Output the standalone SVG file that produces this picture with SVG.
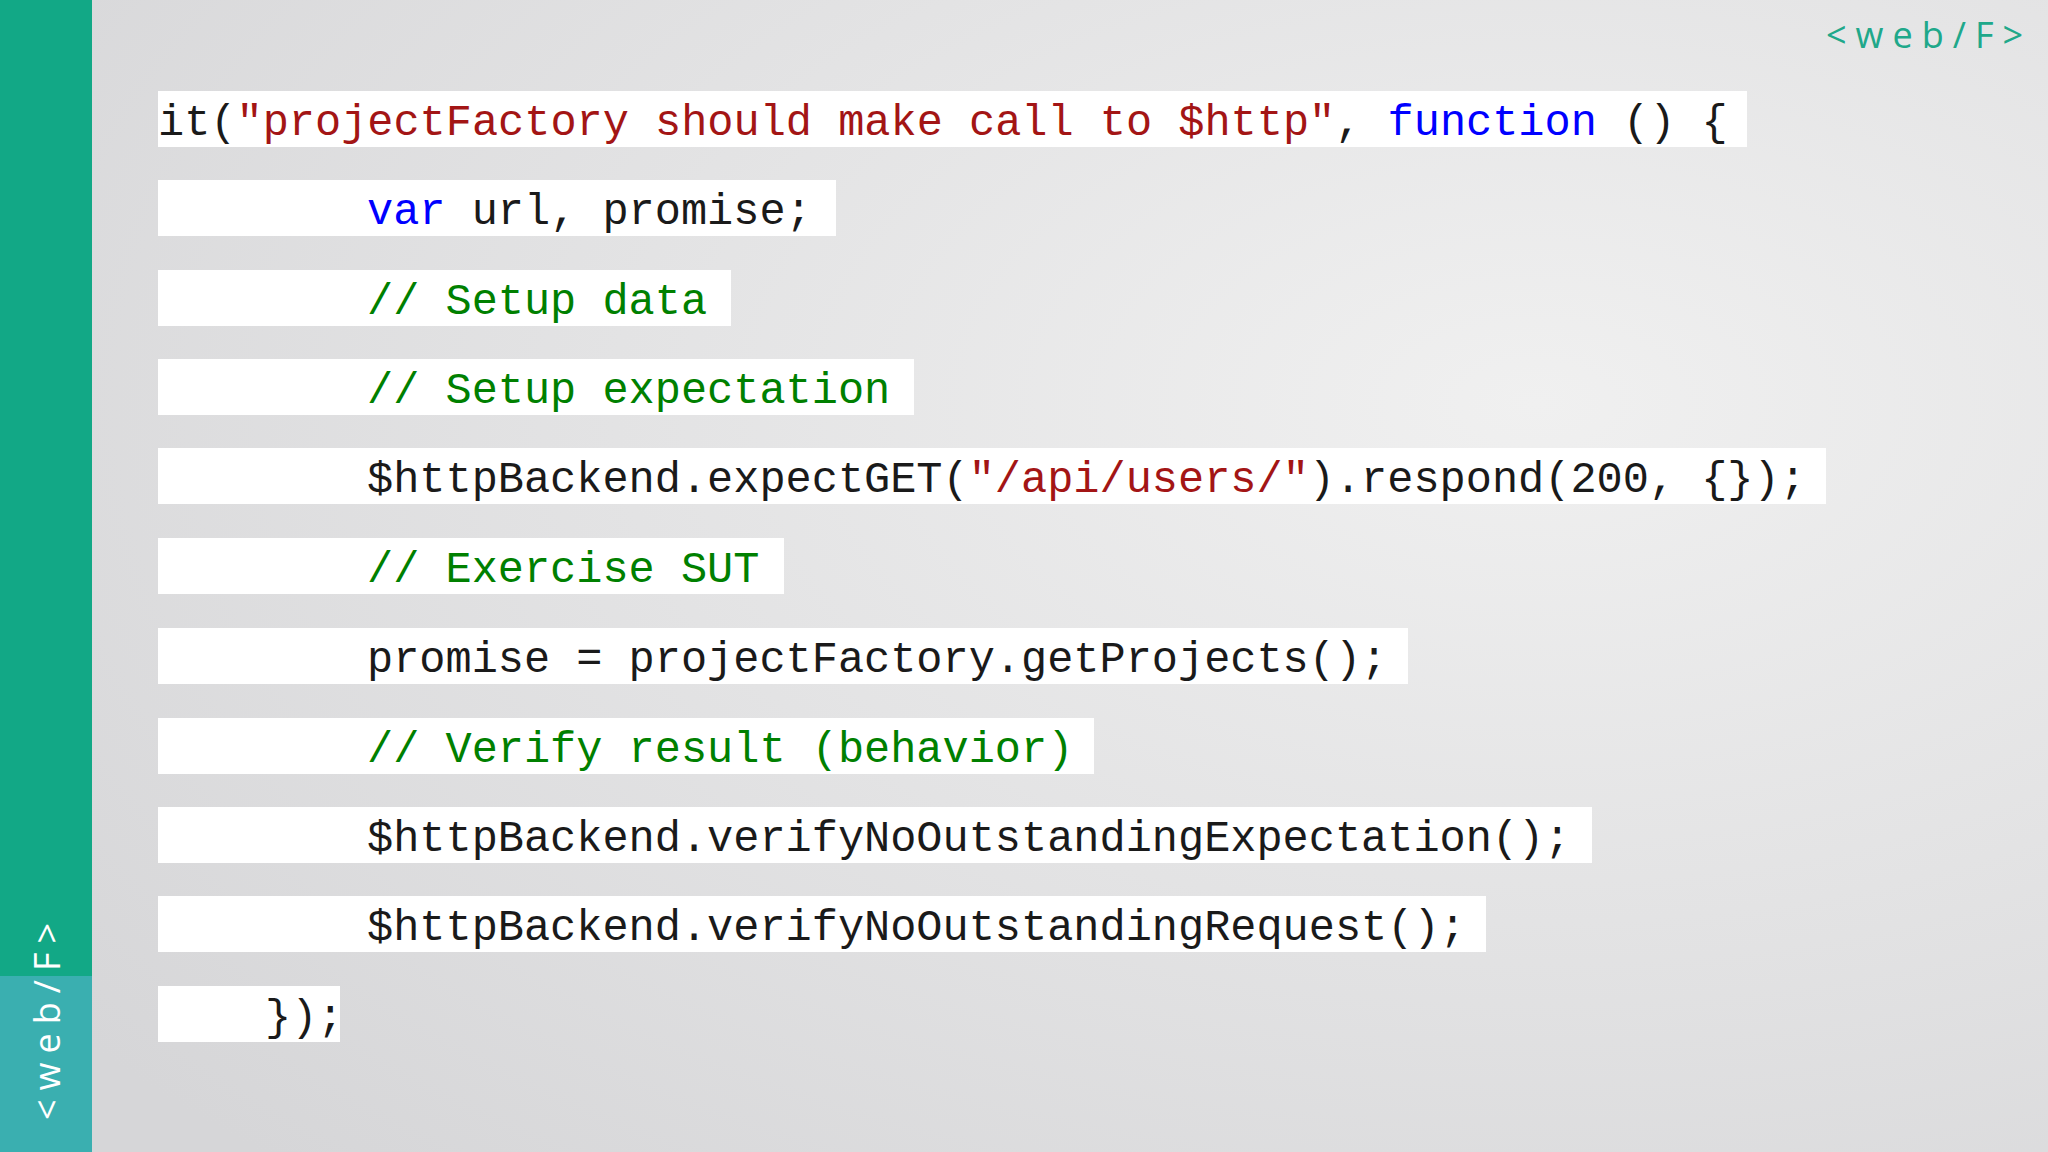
<svg xmlns="http://www.w3.org/2000/svg" width="2048" height="1152" viewBox="0 0 2048 1152">
<defs>
<radialGradient id="bg" cx="0.75" cy="0.35" r="0.9">
<stop offset="0" stop-color="#f0f0f0"/><stop offset="1" stop-color="#d6d6d8"/>
</radialGradient>
<style>
.box{fill:#ffffff}
.code{font-family:"Liberation Mono",monospace;font-size:43.6px;fill:#1a1a1a}
.s{fill:#a31515}.k{fill:#0000ff}.c{fill:#008000}
.logo{font-family:"Open Sans","DejaVu Sans",sans-serif;font-size:36px;letter-spacing:9px}
</style>
</defs>
<rect width="2048" height="1152" fill="url(#bg)"/>
<g id="sidebar">
<rect x="0" y="0" width="92" height="976" fill="#12a886"/>
<rect x="0" y="976" width="92" height="176" fill="#3aafb0"/>
<text class="logo" fill="#ffffff" transform="translate(60,1120) rotate(-90)">&lt;web/F&gt;</text>
</g>
<text class="logo" x="1826" y="48" fill="#20a88a">&lt;web/F&gt;</text>
<g id="line1"><rect class="box" x="158" y="91" width="1589" height="56"/><text class="code" x="158" y="135">it(<tspan class="s">"projectFactory should make call to $http"</tspan>, <tspan class="k">function</tspan> () {</text></g>
<g id="line2"><rect class="box" x="158" y="180" width="678" height="56"/><text class="code" x="367" y="224"><tspan class="k">var</tspan> url, promise;</text></g>
<g id="line3"><rect class="box" x="158" y="270" width="573" height="56"/><text class="code c" x="367" y="314">// Setup data</text></g>
<g id="line4"><rect class="box" x="158" y="359" width="756" height="56"/><text class="code c" x="367" y="403">// Setup expectation</text></g>
<g id="line5"><rect class="box" x="158" y="448" width="1668" height="56"/><text class="code" x="367" y="492">$httpBackend.expectGET(<tspan class="s">"/api/users/"</tspan>).respond(200, {});</text></g>
<g id="line6"><rect class="box" x="158" y="538" width="626" height="56"/><text class="code c" x="367" y="582">// Exercise SUT</text></g>
<g id="line7"><rect class="box" x="158" y="628" width="1250" height="56"/><text class="code" x="367" y="672">promise = projectFactory.getProjects();</text></g>
<g id="line8"><rect class="box" x="158" y="718" width="936" height="56"/><text class="code c" x="367" y="762">// Verify result (behavior)</text></g>
<g id="line9"><rect class="box" x="158" y="807" width="1434" height="56"/><text class="code" x="367" y="851">$httpBackend.verifyNoOutstandingExpectation();</text></g>
<g id="line10"><rect class="box" x="158" y="896" width="1328" height="56"/><text class="code" x="367" y="940">$httpBackend.verifyNoOutstandingRequest();</text></g>
<g id="line11"><rect class="box" x="158" y="986" width="182" height="56"/><text class="code" x="265" y="1030">});</text></g>
</svg>
